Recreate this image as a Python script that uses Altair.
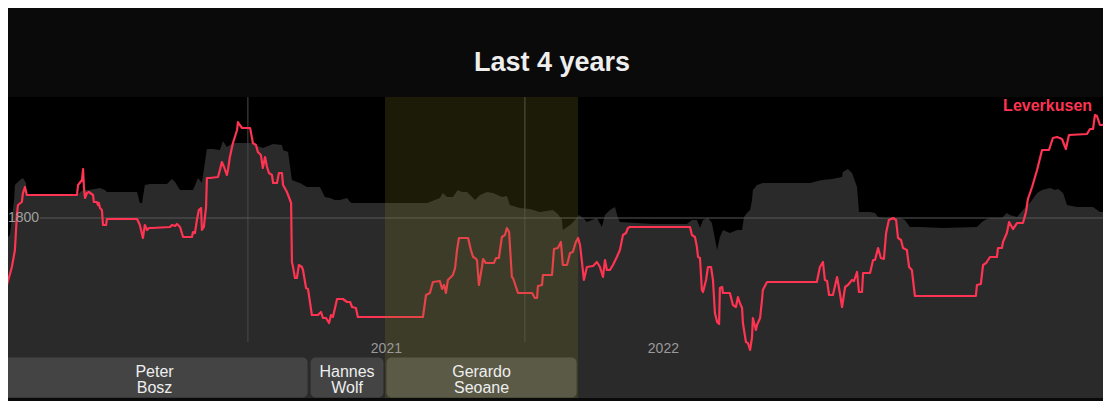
import altair as alt
import pandas as pd

# ---------------- data ----------------
# (fractional year, Elo rating)
leverkusen = [
    (2020.105, 1708), (2020.123, 1723), (2020.130, 1733), (2020.148, 1751), (2020.159, 1768),
    (2020.166, 1803), (2020.170, 1813), (2020.184, 1816), (2020.188, 1825), (2020.195, 1831),
    (2020.202, 1823), (2020.383, 1823), (2020.387, 1833), (2020.401, 1838), (2020.405, 1849),
    (2020.408, 1831), (2020.412, 1820), (2020.419, 1825), (2020.426, 1826), (2020.441, 1823),
    (2020.444, 1816), (2020.455, 1816), (2020.459, 1813), (2020.462, 1815), (2020.466, 1810),
    (2020.473, 1808), (2020.477, 1793), (2020.488, 1793), (2020.491, 1799), (2020.600, 1799),
    (2020.610, 1793), (2020.621, 1780), (2020.628, 1793), (2020.636, 1788), (2020.643, 1790),
    (2020.654, 1790), (2020.719, 1791), (2020.726, 1793), (2020.737, 1792), (2020.744, 1794),
    (2020.755, 1791), (2020.766, 1781), (2020.798, 1781), (2020.802, 1786), (2020.809, 1785),
    (2020.816, 1798), (2020.823, 1808), (2020.831, 1810), (2020.834, 1788), (2020.841, 1791),
    (2020.849, 1811), (2020.852, 1840), (2020.863, 1840), (2020.892, 1841), (2020.899, 1848),
    (2020.906, 1856), (2020.914, 1851), (2020.924, 1843), (2020.928, 1848), (2020.935, 1861),
    (2020.946, 1875), (2020.961, 1888), (2020.964, 1896), (2020.971, 1893), (2020.979, 1890),
    (2021.008, 1890), (2021.018, 1875), (2021.029, 1873), (2021.036, 1866), (2021.047, 1863),
    (2021.054, 1850), (2021.062, 1861), (2021.069, 1851), (2021.076, 1845), (2021.087, 1843),
    (2021.091, 1835), (2021.105, 1835), (2021.112, 1845), (2021.123, 1845), (2021.127, 1833),
    (2021.141, 1826), (2021.152, 1818), (2021.156, 1815), (2021.159, 1756), (2021.163, 1751),
    (2021.170, 1740), (2021.177, 1740), (2021.184, 1753), (2021.195, 1751), (2021.199, 1748),
    (2021.210, 1730), (2021.217, 1729), (2021.231, 1703), (2021.253, 1703), (2021.264, 1706),
    (2021.271, 1700), (2021.282, 1700), (2021.293, 1695), (2021.300, 1703), (2021.307, 1701),
    (2021.322, 1719), (2021.343, 1719), (2021.358, 1716), (2021.369, 1716), (2021.376, 1711),
    (2021.390, 1710), (2021.397, 1701), (2021.632, 1701), (2021.643, 1723), (2021.657, 1725),
    (2021.668, 1736), (2021.693, 1737), (2021.701, 1729), (2021.708, 1733), (2021.715, 1725),
    (2021.722, 1738), (2021.733, 1741), (2021.740, 1743), (2021.748, 1750), (2021.755, 1768),
    (2021.762, 1780), (2021.795, 1780), (2021.805, 1768), (2021.813, 1761), (2021.820, 1760),
    (2021.827, 1758), (2021.834, 1733), (2021.845, 1751), (2021.849, 1759), (2021.859, 1755),
    (2021.888, 1755), (2021.896, 1760), (2021.906, 1760), (2021.917, 1781), (2021.928, 1783),
    (2021.935, 1790), (2021.943, 1786), (2021.953, 1741), (2021.957, 1740), (2021.975, 1725),
    (2022.026, 1725), (2022.036, 1720), (2022.044, 1720), (2022.047, 1732), (2022.062, 1733),
    (2022.065, 1743), (2022.098, 1743), (2022.105, 1769), (2022.119, 1770), (2022.130, 1776),
    (2022.137, 1753), (2022.152, 1753), (2022.163, 1765), (2022.173, 1766), (2022.184, 1776),
    (2022.192, 1780), (2022.199, 1773), (2022.206, 1756), (2022.213, 1738), (2022.224, 1751),
    (2022.246, 1752), (2022.260, 1756), (2022.271, 1751), (2022.282, 1741), (2022.289, 1758),
    (2022.296, 1748), (2022.307, 1748), (2022.318, 1753), (2022.332, 1761), (2022.343, 1768),
    (2022.354, 1783), (2022.365, 1785), (2022.372, 1790), (2022.379, 1791), (2022.596, 1791),
    (2022.603, 1783), (2022.614, 1781), (2022.621, 1771), (2022.625, 1761), (2022.632, 1760),
    (2022.639, 1728), (2022.643, 1726), (2022.654, 1738), (2022.661, 1751), (2022.672, 1751),
    (2022.679, 1738), (2022.686, 1705), (2022.694, 1696), (2022.701, 1694), (2022.704, 1730),
    (2022.712, 1731), (2022.715, 1725), (2022.740, 1725), (2022.751, 1713), (2022.762, 1711),
    (2022.769, 1721), (2022.776, 1715), (2022.784, 1710), (2022.787, 1695), (2022.798, 1676),
    (2022.805, 1675), (2022.813, 1668), (2022.820, 1681), (2022.823, 1700), (2022.834, 1688),
    (2022.838, 1693), (2022.849, 1700), (2022.856, 1718), (2022.859, 1728), (2022.874, 1736),
    (2023.054, 1736), (2023.065, 1751), (2023.076, 1756), (2023.083, 1738), (2023.091, 1737),
    (2023.098, 1723), (2023.112, 1723), (2023.127, 1741), (2023.137, 1725), (2023.145, 1711),
    (2023.156, 1731), (2023.166, 1733), (2023.181, 1738), (2023.188, 1737), (2023.199, 1746),
    (2023.206, 1726), (2023.217, 1726), (2023.221, 1745), (2023.246, 1745), (2023.257, 1758),
    (2023.264, 1758), (2023.275, 1770), (2023.285, 1760), (2023.296, 1759), (2023.304, 1785),
    (2023.314, 1798), (2023.329, 1800), (2023.340, 1798), (2023.347, 1780), (2023.358, 1778),
    (2023.365, 1770), (2023.379, 1768), (2023.387, 1751), (2023.397, 1748), (2023.408, 1722),
    (2023.628, 1722), (2023.632, 1733), (2023.646, 1734), (2023.654, 1753), (2023.665, 1755),
    (2023.679, 1761), (2023.704, 1761), (2023.708, 1770), (2023.722, 1770), (2023.726, 1776),
    (2023.740, 1785), (2023.748, 1796), (2023.762, 1789), (2023.777, 1795), (2023.798, 1795),
    (2023.809, 1806), (2023.816, 1819), (2023.831, 1831), (2023.849, 1848), (2023.867, 1868),
    (2023.892, 1868), (2023.906, 1880), (2023.921, 1881), (2023.939, 1879), (2023.953, 1869),
    (2023.964, 1883), (2024.029, 1884), (2024.040, 1889), (2024.051, 1889), (2024.058, 1903),
    (2024.065, 1902), (2024.076, 1893), (2024.087, 1893), (2024.098, 1898),
]

# upper edge of the grey band (fractional year, Elo)
band = [
    (2020.105, 1778), (2020.123, 1778), (2020.141, 1783), (2020.156, 1818), (2020.159, 1833),
    (2020.166, 1835), (2020.177, 1838), (2020.188, 1840), (2020.199, 1835), (2020.202, 1822),
    (2020.383, 1822), (2020.394, 1826), (2020.405, 1828), (2020.423, 1828), (2020.448, 1829),
    (2020.466, 1830), (2020.484, 1828), (2020.491, 1826), (2020.600, 1826), (2020.610, 1815),
    (2020.618, 1815), (2020.628, 1833), (2020.647, 1834), (2020.708, 1834), (2020.726, 1839),
    (2020.737, 1836), (2020.755, 1828), (2020.802, 1828), (2020.820, 1840), (2020.834, 1835),
    (2020.852, 1869), (2020.874, 1869), (2020.899, 1868), (2020.910, 1877), (2020.924, 1871),
    (2020.946, 1875), (2021.015, 1875), (2021.026, 1873), (2021.054, 1870), (2021.091, 1874),
    (2021.123, 1873), (2021.127, 1868), (2021.145, 1866), (2021.159, 1838), (2021.177, 1836),
    (2021.188, 1835), (2021.213, 1831), (2021.260, 1831), (2021.278, 1821), (2021.296, 1820),
    (2021.314, 1818), (2021.332, 1818), (2021.358, 1820), (2021.369, 1816), (2021.376, 1815),
    (2021.621, 1815), (2021.647, 1815), (2021.693, 1820), (2021.704, 1825), (2021.719, 1821),
    (2021.740, 1821), (2021.758, 1828), (2021.773, 1826), (2021.791, 1826), (2021.802, 1823),
    (2021.820, 1818), (2021.838, 1823), (2021.863, 1826), (2021.885, 1825), (2021.917, 1821),
    (2021.935, 1822), (2021.946, 1813), (2021.982, 1810), (2022.018, 1809), (2022.054, 1806),
    (2022.101, 1808), (2022.119, 1804), (2022.134, 1798), (2022.137, 1788), (2022.163, 1793),
    (2022.181, 1798), (2022.195, 1803), (2022.210, 1800), (2022.224, 1796), (2022.260, 1800),
    (2022.278, 1791), (2022.289, 1803), (2022.307, 1808), (2022.325, 1811), (2022.336, 1800),
    (2022.343, 1796), (2022.405, 1795), (2022.462, 1794), (2022.585, 1794), (2022.603, 1798),
    (2022.621, 1798), (2022.632, 1790), (2022.643, 1798), (2022.661, 1800), (2022.675, 1795),
    (2022.694, 1768), (2022.704, 1781), (2022.715, 1788), (2022.740, 1785), (2022.766, 1788),
    (2022.784, 1788), (2022.791, 1801), (2022.802, 1805), (2022.813, 1808), (2022.820, 1818),
    (2022.823, 1828), (2022.838, 1833), (2022.859, 1835), (2023.029, 1835), (2023.072, 1838),
    (2023.109, 1839), (2023.145, 1841), (2023.148, 1846), (2023.166, 1849), (2023.181, 1845),
    (2023.199, 1831), (2023.206, 1806), (2023.246, 1806), (2023.264, 1805), (2023.275, 1801),
    (2023.293, 1800), (2023.354, 1800), (2023.372, 1798), (2023.390, 1791), (2023.426, 1791),
    (2023.509, 1790), (2023.632, 1791), (2023.650, 1796), (2023.661, 1798), (2023.679, 1800),
    (2023.722, 1800), (2023.740, 1805), (2023.751, 1803), (2023.777, 1801), (2023.798, 1808),
    (2023.823, 1815), (2023.849, 1825), (2023.867, 1828), (2023.896, 1830), (2023.914, 1828),
    (2023.925, 1829), (2023.943, 1825), (2023.957, 1813), (2023.993, 1811), (2024.051, 1811),
    (2024.076, 1806), (2024.098, 1806),
]

managers = ["Peter Bosz", "Hannes Wolf", "Gerardo Seoane"]
manager_start = [2020.105, 2021.221, 2021.495]
manager_end = [2021.221, 2021.495, 2022.192]
highlighted_manager = "Gerardo Seoane"

year_starts = [2021, 2022]
year_names = ["2021", "2022"]
reference_level = [1800]
reference_label = ["1800"]
team_name = "Leverkusen"
chart_title = "Last 4 years"

# ---------------- layout / style ----------------
W, H = 1095, 393
X_DOMAIN = [2020.134, 2024.087]
Y_DOMAIN = [1617, 2010]          # whole canvas height
PLOT_TOP_ELO, PLOT_BOTTOM_ELO = 1921, 1661
STRIP_BOTTOM_ELO = 1620
GRID_BOTTOM_ELO = 1676
RED = "#ff3352"
FONT = "Liberation Sans"

line_df = pd.DataFrame(leverkusen, columns=["t", "elo"])
band_df = pd.DataFrame(band, columns=["t", "elo"]).assign(base=PLOT_BOTTOM_ELO)
mgr_df = pd.DataFrame({"manager": managers, "start": manager_start, "end": manager_end})
mgr_df = mgr_df.assign(top=PLOT_BOTTOM_ELO - 0.5, bottom=STRIP_BOTTOM_ELO + 0.5,
                       otop=PLOT_TOP_ELO, obottom=STRIP_BOTTOM_ELO,
                       hl=[m == highlighted_manager for m in managers])
year_df = pd.DataFrame({"year": year_starts, "label": year_names,
                        "top": PLOT_TOP_ELO, "bottom": GRID_BOTTOM_ELO})
ref_df = pd.DataFrame({"level": reference_level, "label": reference_label})
last_df = line_df.tail(1).assign(name=team_name)
frame_df = pd.DataFrame({"top": [PLOT_TOP_ELO, PLOT_BOTTOM_ELO],
                         "bottom": [PLOT_BOTTOM_ELO, STRIP_BOTTOM_ELO],
                         "fill": ["plot", "strip"]})
title_df = pd.DataFrame({"title": [chart_title]})

xs = alt.Scale(domain=X_DOMAIN, nice=False, zero=False)
ys = alt.Scale(domain=Y_DOMAIN, nice=False, zero=False)

frame = alt.Chart(frame_df).mark_rect().encode(
    x=alt.value(0), x2=alt.value(W),
    y=alt.Y("top:Q", scale=ys, axis=None), y2="bottom:Q",
    color=alt.Color("fill:N", scale=alt.Scale(domain=["plot", "strip"],
                                               range=["#000000", "#2a2a2a"]), legend=None),
)

band_layer = alt.Chart(band_df).mark_area(color="#2a2a2a", clip=True).encode(
    x=alt.X("t:Q", scale=xs, axis=None),
    y=alt.Y("elo:Q", scale=ys, axis=None),
    y2="base:Q",
)

vgrid = alt.Chart(year_df).mark_rule(color="#4a4a4a", strokeWidth=1).encode(
    x=alt.X("year:Q", scale=xs, axis=None),
    y=alt.Y("top:Q", scale=ys, axis=None),
    y2="bottom:Q",
)

hrule = alt.Chart(ref_df).mark_rule(color="#585858", strokeWidth=1).encode(
    y=alt.Y("level:Q", scale=ys, axis=None),
    x=alt.value(32),
    x2=alt.value(W),
)

line_layer = alt.Chart(line_df).mark_line(
    color=RED, strokeWidth=2.2, clip=True, strokeJoin="round"
).encode(
    x=alt.X("t:Q", scale=xs, axis=None),
    y=alt.Y("elo:Q", scale=ys, axis=None),
)

bars = alt.Chart(mgr_df).mark_rect(
    cornerRadius=5, xOffset=1.5, x2Offset=-1.5, clip=True
).encode(
    x=alt.X("start:Q", scale=xs, axis=None),
    x2="end:Q",
    y=alt.Y("top:Q", scale=ys, axis=None),
    y2="bottom:Q",
    color=alt.condition(alt.datum.hl, alt.value("#515151"), alt.value("#444444")),
)

overlay = alt.Chart(mgr_df).transform_filter(
    alt.datum.manager == highlighted_manager
).mark_rect(color="#808026", opacity=0.21).encode(
    x=alt.X("start:Q", scale=xs, axis=None),
    x2="end:Q",
    y=alt.Y("otop:Q", scale=ys, axis=None),
    y2="obottom:Q",
)

year_text = alt.Chart(year_df).transform_calculate(mid="datum.year + 0.5").mark_text(
    color="#9a9a9a", fontSize=14, font=FONT, baseline="alphabetic", align="center"
).encode(
    x=alt.X("mid:Q", scale=xs, axis=None),
    y=alt.value(345),
    text="label:N",
)

mgr_text = alt.Chart(mgr_df).transform_calculate(mid="(datum.start + datum.end) / 2").mark_text(
    color="#eeeeee", fontSize=16, font=FONT, lineBreak=" ", lineHeight=15.5,
    baseline="alphabetic", align="center"
).encode(
    x=alt.X("mid:Q", scale=xs, axis=None),
    y=alt.value(369),
    text="manager:N",
)

ref_text = alt.Chart(ref_df).mark_text(
    color="#a0a0a0", fontSize=14, font=FONT, align="left", baseline="middle"
).encode(
    x=alt.value(0),
    y=alt.Y("level:Q", scale=ys, axis=None),
    text="label:N",
)

team_text = alt.Chart(last_df).mark_text(
    color=RED, fontSize=16, fontWeight="bold", font=FONT, align="right",
    baseline="alphabetic", dx=-14, dy=-9
).encode(
    x=alt.X("t:Q", scale=xs, axis=None),
    y=alt.Y("elo:Q", scale=ys, axis=None),
    text="name:N",
)

title_text = alt.Chart(title_df).mark_text(
    color="#eeeeee", fontSize=27, fontWeight="bold", font=FONT, align="center",
    baseline="alphabetic"
).encode(
    x=alt.value(544),
    y=alt.value(63),
    text="title:N",
)

chart = alt.layer(
    frame, band_layer, vgrid, hrule, line_layer, bars, overlay,
    year_text, ref_text, mgr_text, team_text, title_text,
).properties(
    width=W, height=H, padding=0,
    autosize=alt.AutoSizeParams(type="none"),
    background="#0a0a0a",
).configure_view(strokeWidth=0)

chart.save("out.html", embed_options={"renderer": "svg", "actions": False})
